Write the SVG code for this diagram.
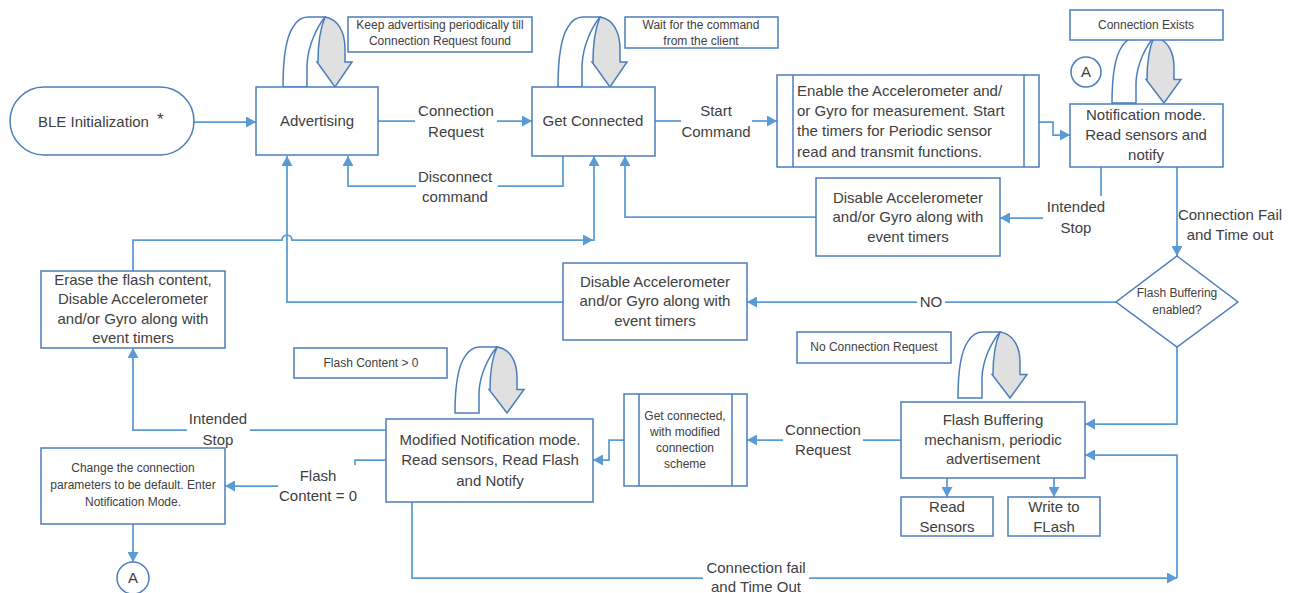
<svg xmlns="http://www.w3.org/2000/svg" xmlns:xlink="http://www.w3.org/1999/xlink" width="1298" height="593" viewBox="0 0 1298 593">
<style>
.box{fill:#fff;stroke:#4a7ebb;stroke-width:1.5}
.con{fill:none;stroke:#5b9bd5;stroke-width:1.75}
.arr{marker-end:url(#ah)}
.t{font-family:"Liberation Sans",Arial,sans-serif;font-size:15px;fill:#404040;text-anchor:middle}
.s{font-size:12px}
.l{text-anchor:start}
.uw{fill:#fff;stroke:#4a7ebb;stroke-width:1.5}
.ug{fill:#e0e0e0;stroke:#4a7ebb;stroke-width:1.5}
</style>
<defs>
<marker id="ah" markerUnits="userSpaceOnUse" markerWidth="10" markerHeight="11" viewBox="0 0 10 11" refX="10" refY="5.5" orient="auto">
<path d="M0,0 L10,5.5 L0,11 z" fill="#5b9bd5"/>
</marker>
<g id="uturn">
<path class="uw" d="M0,70 C0,45 2,22 10,10 C14,3 18,0 25,0 H42 C34,10 25,28 24,48 V70 Z"/>
<path class="ug" d="M42,0 C55,2 62,15 62,32 V45 H69 L52,70 L34,45 H35 C35,28 37,12 42,0 Z"/>
</g>
</defs>
<rect width="1298" height="593" fill="#fff"/>

<g id="connectors">
<path class="con arr" d="M194,122 H256"/>
<path class="con" d="M378,121 H415"/>
<path class="con arr" d="M497,121 H532"/>
<path class="con" d="M655,121 H681"/>
<path class="con arr" d="M752,121 H777"/>
<path class="con arr" d="M1039,122 H1053 V135 H1070"/>
<path class="con" d="M1101,167 V196"/>
<path class="con arr" d="M1043,218 H1000"/>
<path class="con arr" d="M1177,167 V256"/>
<path class="con arr" d="M816,217 H625 V156"/>
<path class="con" d="M563,156 V186 H498"/>
<path class="con arr" d="M416,186 H348 V156"/>
<path class="con arr" d="M133,271 V240 H282 A5,5 0 0 1 292,240 H593"/>
<path class="con arr" d="M594,241 V156"/>
<path class="con arr" d="M563,302 H287 V156"/>
<path class="con" d="M1116,302 H945"/>
<path class="con arr" d="M917,302 H747"/>
<path class="con arr" d="M1177,347 V424 H1085"/>
<path class="con" d="M901,440 H863"/>
<path class="con arr" d="M783,440 H747"/>
<path class="con arr" d="M624,440 H609 V460 H593"/>
<path class="con" d="M386,430 H250"/>
<path class="con arr" d="M187,430 H133 V348"/>
<path class="con" d="M386,460 H355 V465"/>
<path class="con arr" d="M278,486 H225"/>
<path class="con arr" d="M133,524 V562"/>
<path class="con" d="M412,502 V578 H703"/>
<path class="con arr" d="M809,578 H1177"/>
<path class="con arr" d="M1177,578 V455 H1085"/>
<path class="con arr" d="M947,478 V497"/>
<path class="con arr" d="M1054,478 V497"/>
<use xlink:href="#uturn" href="#uturn" transform="translate(283,17)"/>
<use xlink:href="#uturn" href="#uturn" transform="translate(558,17)"/>
<use xlink:href="#uturn" href="#uturn" transform="translate(1112,37) scale(1,0.943)"/>
<use xlink:href="#uturn" href="#uturn" transform="translate(455,347) scale(1,0.943)"/>
<use xlink:href="#uturn" href="#uturn" transform="translate(958,332) scale(1,0.943)"/>
<g class="t">
<text x="456" y="116">Connection</text>
<text x="456" y="137">Request</text>
<text x="716" y="116">Start</text>
<text x="716" y="137">Command</text>
<text x="455" y="182">Disconnect</text>
<text x="455" y="202">command</text>
<text x="1076" y="212">Intended</text>
<text x="1076" y="233">Stop</text>
<text x="1230" y="220">Connection Fail</text>
<text x="1230" y="240">and Time out</text>
<text x="931" y="307">NO</text>
<text x="823" y="435">Connection</text>
<text x="823" y="455">Request</text>
<text x="218" y="424">Intended</text>
<text x="218" y="445">Stop</text>
<text x="318" y="481">Flash</text>
<text x="318" y="501">Content = 0</text>
<text x="756" y="573">Connection fail</text>
<text x="756" y="592">and Time Out</text>
</g>
</g>

<g id="ble-init">
<rect class="box" x="10" y="87" width="184" height="68" rx="34"/>
<text class="t l" x="38" y="127">BLE Initialization<tspan x="157" y="125" font-size="17">*</tspan></text>
</g>
<g id="advertising">
<rect class="box" x="256" y="87" width="122" height="68"/>
<text class="t" x="317" y="126">Advertising</text>
</g>
<g id="note-keep-adv">
<rect class="box" x="348" y="17" width="184" height="35"/>
<text class="t s" x="440" y="29">Keep advertising periodically till</text>
<text class="t s" x="440" y="45">Connection Request found</text>
</g>
<g id="get-connected">
<rect class="box" x="532" y="87" width="123" height="69"/>
<text class="t" x="593" y="126">Get Connected</text>
</g>
<g id="note-wait">
<rect class="box" x="625" y="17" width="153" height="31"/>
<text class="t s" x="701" y="29">Wait for the command</text>
<text class="t s" x="701" y="45">from the client</text>
</g>
<g id="enable">
<rect class="box" x="777" y="75" width="262" height="92"/>
<line class="box" x1="793" y1="75" x2="793" y2="167"/>
<line class="box" x1="1024" y1="75" x2="1024" y2="167"/>
<text class="t l" x="797" y="96">Enable the Accelerometer and/</text>
<text class="t l" x="797" y="116">or Gyro for measurement. Start</text>
<text class="t l" x="797" y="136">the timers for Periodic sensor</text>
<text class="t l" x="797" y="157">read and transmit functions.</text>
</g>
<g id="note-conn-exists">
<rect class="box" x="1070" y="10" width="153" height="30"/>
<text class="t s" x="1146" y="29">Connection Exists</text>
</g>
<g id="connector-a-top">
<circle class="box" cx="1086" cy="72" r="15"/>
<text class="t" x="1086" y="77">A</text>
</g>
<g id="notification">
<rect class="box" x="1070" y="104" width="153" height="63"/>
<text class="t" x="1146" y="120">Notification mode.</text>
<text class="t" x="1146" y="140">Read sensors and</text>
<text class="t" x="1146" y="160">notify</text>
</g>
<g id="disable-top">
<rect class="box" x="816" y="178" width="184" height="78"/>
<text class="t" x="908" y="203">Disable Accelerometer</text>
<text class="t" x="908" y="222">and/or Gyro along with</text>
<text class="t" x="908" y="242">event timers</text>
</g>
<g id="flash-enabled">
<path class="box" d="M1177,256 L1238,302 L1177,347 L1116,302 Z"/>
<text class="t s" x="1177" y="297">Flash Buffering</text>
<text class="t s" x="1177" y="314">enabled?</text>
</g>
<g id="disable-mid">
<rect class="box" x="563" y="263" width="184" height="77"/>
<text class="t" x="655" y="287">Disable Accelerometer</text>
<text class="t" x="655" y="306">and/or Gyro along with</text>
<text class="t" x="655" y="326">event timers</text>
</g>
<g id="erase">
<rect class="box" x="41" y="271" width="184" height="77"/>
<text class="t" x="133" y="285">Erase the flash content,</text>
<text class="t" x="133" y="304">Disable Accelerometer</text>
<text class="t" x="133" y="324">and/or Gyro along with</text>
<text class="t" x="133" y="343">event timers</text>
</g>
<g id="note-no-conn">
<rect class="box" x="797" y="332" width="154" height="31"/>
<text class="t s" x="874" y="351">No Connection Request</text>
</g>
<g id="note-flash-gt0">
<rect class="box" x="294" y="348" width="153" height="30"/>
<text class="t s" x="371" y="367">Flash Content &gt; 0</text>
</g>
<g id="flash-buffering">
<rect class="box" x="901" y="402" width="184" height="76"/>
<text class="t" x="993" y="425">Flash Buffering</text>
<text class="t" x="993" y="445">mechanism, periodic</text>
<text class="t" x="993" y="464">advertisement</text>
</g>
<g id="read-sensors">
<rect class="box" x="901" y="497" width="92" height="39"/>
<text class="t" x="947" y="512">Read</text>
<text class="t" x="947" y="532">Sensors</text>
</g>
<g id="write-flash">
<rect class="box" x="1008" y="497" width="92" height="39"/>
<text class="t" x="1054" y="512">Write to</text>
<text class="t" x="1054" y="532">FLash</text>
</g>
<g id="get-connected-mod">
<rect class="box" x="624" y="394" width="123" height="92"/>
<line class="box" x1="639" y1="394" x2="639" y2="486"/>
<line class="box" x1="732" y1="394" x2="732" y2="486"/>
<text class="t s" x="685" y="420">Get connected,</text>
<text class="t s" x="685" y="436">with modified</text>
<text class="t s" x="685" y="452">connection</text>
<text class="t s" x="685" y="468">scheme</text>
</g>
<g id="modified-notification">
<rect class="box" x="386" y="419" width="207" height="83"/>
<text class="t" x="490" y="445">Modified Notification mode.</text>
<text class="t" x="490" y="465">Read sensors, Read Flash</text>
<text class="t" x="490" y="486">and Notify</text>
</g>
<g id="change-params">
<rect class="box" x="41" y="448" width="184" height="76"/>
<text class="t s" x="133" y="472">Change the connection</text>
<text class="t s" x="133" y="489">parameters to be default. Enter</text>
<text class="t s" x="133" y="506">Notification Mode.</text>
</g>
<g id="connector-a-bottom">
<circle class="box" cx="133" cy="578" r="16"/>
<text class="t" x="133" y="583">A</text>
</g>
</svg>
